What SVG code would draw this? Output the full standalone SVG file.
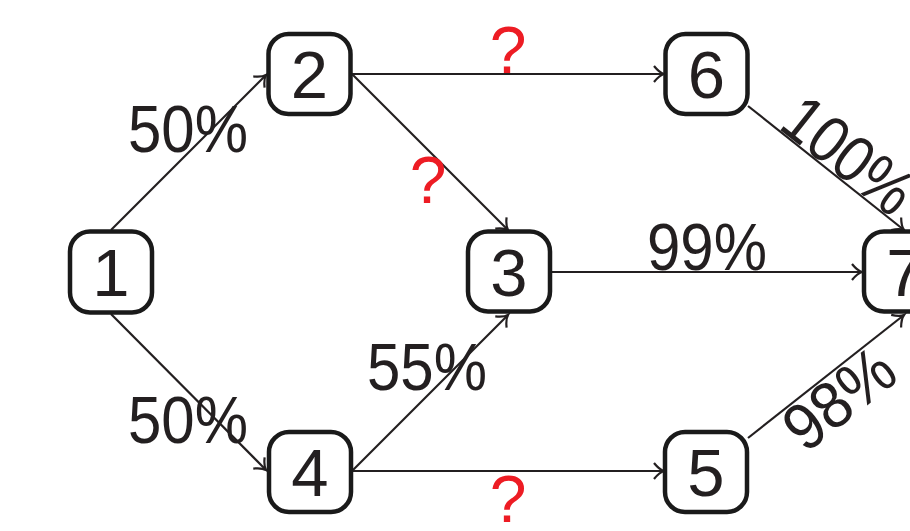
<svg xmlns="http://www.w3.org/2000/svg" width="910" height="531" viewBox="0 0 910 531">
<defs>
<style>
.box{fill:#fff;stroke:#1a1a1a;stroke-width:4.5}
.num{font-family:"Liberation Sans",Arial,sans-serif;font-size:67px;fill:#231f20;text-anchor:middle}
.lbl{font-family:"Liberation Sans",Arial,sans-serif;font-size:66px;fill:#231f20;text-anchor:middle}
.q{font-family:"Liberation Sans",Arial,sans-serif;font-size:66px;fill:#ed1c24;text-anchor:middle}
.edge{fill:none;stroke:#231f20;stroke-width:2.2;marker-end:url(#tip)}
</style>
<marker id="tip" markerUnits="userSpaceOnUse" markerWidth="22" markerHeight="22" viewBox="-13 -11 15 22" refX="0" refY="0" orient="auto">
<path d="M-10,-8 Q-4.5,-1.2 0,0 Q-4.5,1.2 -10,8" fill="none" stroke="#231f20" stroke-width="2.2"/>
</marker>
</defs>
<g id="edges">
<path class="edge" d="M111,230 L266,75"/>
<path class="edge" d="M111,314 L266,470"/>
<path class="edge" d="M352,74 L664,74"/>
<path class="edge" d="M352,74 L508,230"/>
<path class="edge" d="M352,471 L508,315"/>
<path class="edge" d="M352,471 L664,471"/>
<path class="edge" d="M551,272 L862,272"/>
<path class="edge" d="M748,106 L904,230"/>
<path class="edge" d="M748,438 L904,315"/>
</g>
<g id="labels">
<text class="lbl" x="188" y="152" textLength="120" lengthAdjust="spacingAndGlyphs">50%</text>
<text class="lbl" x="188" y="443" textLength="120" lengthAdjust="spacingAndGlyphs">50%</text>
<text class="lbl" x="427" y="390" textLength="120" lengthAdjust="spacingAndGlyphs">55%</text>
<text class="lbl" x="707" y="270" textLength="120" lengthAdjust="spacingAndGlyphs">99%</text>
<text class="lbl" transform="translate(747,105) rotate(38.3)" x="111" y="-1" textLength="147" lengthAdjust="spacingAndGlyphs">100%</text>
<text class="lbl" transform="translate(748,438) rotate(-38.1)" x="96" y="48" textLength="122" lengthAdjust="spacingAndGlyphs">98%</text>
<text class="q" x="508" y="73">?</text>
<text class="q" x="428" y="203">?</text>
<text class="q" x="508" y="522">?</text>
</g>
<g id="node1"><rect class="box" x="70" y="231.5" width="82" height="81" rx="20"/><text class="num" x="111" y="296">1</text></g>
<g id="node2"><rect class="box" x="268.5" y="34" width="82" height="80" rx="20"/><text class="num" x="309.5" y="98">2</text></g>
<g id="node3"><rect class="box" x="468" y="231.5" width="82" height="80" rx="20"/><text class="num" x="509" y="296">3</text></g>
<g id="node4"><rect class="box" x="269" y="432" width="82" height="80" rx="20"/><text class="num" x="310" y="496">4</text></g>
<g id="node5"><rect class="box" x="665" y="432" width="82" height="80" rx="20"/><text class="num" x="706" y="496">5</text></g>
<g id="node6"><rect class="box" x="665.5" y="34" width="82" height="80" rx="20"/><text class="num" x="706.5" y="98">6</text></g>
<g id="node7"><rect class="box" x="864" y="231.5" width="82" height="80" rx="20"/><text class="num" x="905" y="296">7</text></g>
</svg>
